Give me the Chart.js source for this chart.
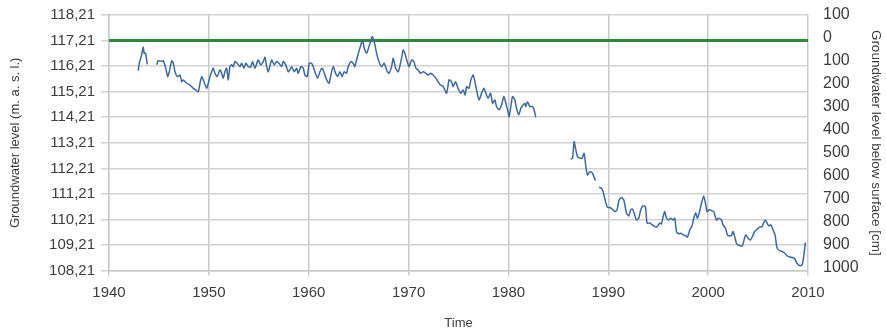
<!DOCTYPE html>
<html>
<head>
<meta charset="utf-8">
<title>Groundwater level</title>
<script src="https://cdn.jsdelivr.net/npm/chart.js@4.4.1/dist/chart.umd.min.js"></script>
<style>
  html, body { margin: 0; padding: 0; background: #ffffff; }
  #wrap { width: 886px; height: 335px; }
</style>
</head>
<body>
<div id="wrap"><canvas id="chart" width="886" height="335"></canvas></div>
<script>
// Observation dates (decimal years); null levels mark breaks in the record
const years = [
  1942.93, 1943.03, 1943.27, 1943.43, 1943.53, 1943.67, 1943.83, 1944.30,
  1944.77, 1944.93, 1945.28, 1945.44, 1945.68, 1945.88, 1946.04, 1946.28, 1946.44, 1946.61, 1946.84,
  1947.11, 1947.28, 1947.44, 1947.78, 1948.11, 1948.44, 1948.68, 1948.94, 1949.11, 1949.28, 1949.51,
  1949.78, 1949.94, 1950.11, 1950.28, 1950.44, 1950.61, 1950.84, 1951.11, 1951.28, 1951.44, 1951.61,
  1951.78, 1951.94, 1952.11, 1952.28, 1952.44, 1952.61, 1952.84, 1953.11, 1953.28, 1953.51, 1953.71,
  1953.94, 1954.18, 1954.38, 1954.61, 1954.94, 1955.19, 1955.45, 1955.62, 1955.79, 1955.95, 1956.29,
  1956.55, 1956.79, 1957.02, 1957.29, 1957.45, 1957.69, 1957.95, 1958.12, 1958.29, 1958.55, 1958.79,
  1958.95, 1959.22, 1959.45, 1959.62, 1959.85, 1960.05, 1960.29, 1960.45, 1960.62, 1960.89, 1961.12,
  1961.35, 1961.62, 1961.89, 1962.05, 1962.22, 1962.45, 1962.69, 1962.89, 1963.12, 1963.35, 1963.55,
  1963.79, 1963.95, 1964.22, 1964.45, 1964.62, 1964.79, 1965.02, 1965.22, 1965.40, 1965.56, 1965.80,
  1966.03, 1966.23, 1966.36, 1966.56, 1966.80, 1967.03, 1967.30, 1967.56, 1967.80, 1968.03, 1968.30,
  1968.46, 1968.70, 1968.96, 1969.30, 1969.46, 1969.63, 1969.86, 1970.06, 1970.30, 1970.53, 1970.73,
  1970.96, 1971.20, 1971.46, 1971.73, 1971.96, 1972.20, 1972.46, 1972.73, 1972.96, 1973.20, 1973.46,
  1973.80, 1974.06, 1974.30, 1974.46, 1974.70, 1974.96, 1975.21, 1975.47, 1975.67, 1975.81, 1976.04,
  1976.24, 1976.47, 1976.71, 1976.91, 1977.07, 1977.31, 1977.54, 1977.74, 1977.97, 1978.21, 1978.41,
  1978.64, 1978.81, 1979.07, 1979.31, 1979.54, 1979.74, 1979.91, 1980.07, 1980.24, 1980.41, 1980.64,
  1980.81, 1981.04, 1981.24, 1981.47, 1981.64, 1981.74, 1981.91, 1982.14, 1982.41, 1982.57, 1982.74,
  1984.50,
  1986.22, 1986.42, 1986.58, 1986.75, 1986.92, 1987.15, 1987.38, 1987.58, 1987.75, 1987.92, 1988.15,
  1988.38, 1988.72, 1988.90,
  1989.08, 1989.32, 1989.48, 1989.72, 1989.92, 1990.15, 1990.38, 1990.65, 1990.88, 1991.08, 1991.32,
  1991.55, 1991.82, 1992.05, 1992.25, 1992.42, 1992.58, 1992.82, 1993.05, 1993.25, 1993.48, 1993.72,
  1993.88, 1994.15, 1994.42, 1994.65, 1994.88, 1995.15, 1995.32, 1995.48, 1995.65, 1995.83, 1996.06,
  1996.26, 1996.49, 1996.66, 1996.83, 1997.06, 1997.26, 1997.49, 1997.76, 1997.93, 1998.16, 1998.39,
  1998.59, 1998.76, 1998.93, 1999.16, 1999.33, 1999.56, 1999.73, 1999.89, 2000.09, 2000.33, 2000.56,
  2000.83, 2001.06, 2001.33, 2001.49, 2001.73, 2001.93, 2002.09, 2002.33, 2002.49, 2002.66, 2002.83,
  2002.99, 2003.23, 2003.43, 2003.60, 2003.76, 2004.00, 2004.23, 2004.43, 2004.66, 2004.89, 2005.16,
  2005.40, 2005.57, 2005.74, 2005.90, 2006.07, 2006.27, 2006.50, 2006.70, 2006.90, 2007.17, 2007.44,
  2007.67, 2007.90, 2008.17, 2008.44, 2008.67, 2008.90, 2009.17, 2009.40, 2009.57, 2009.74
];

// Groundwater level in metres above sea level
const levels = [
  116.03, 116.32, 116.65, 116.95, 116.71, 116.71, 116.28, null,
  116.26, 116.42, 116.39, 116.42, 116.13, 115.80, 115.99, 116.42, 116.32, 115.99, 115.80,
  115.86, 115.60, 115.67, 115.54, 115.47, 115.34, 115.28, 115.21, 115.54, 115.80, 115.60,
  115.34, 115.54, 115.80, 115.99, 116.13, 115.93, 115.80, 116.06, 115.93, 115.74, 115.99,
  116.13, 115.67, 116.19, 116.26, 116.19, 116.39, 116.32, 116.19, 116.32, 116.13, 116.32,
  116.19, 116.17, 116.39, 116.13, 116.45, 116.26, 116.39, 116.56, 116.19, 115.99, 116.45,
  116.26, 116.39, 116.32, 116.19, 116.39, 116.26, 115.99, 116.06, 116.19, 115.99, 116.13,
  115.93, 116.19, 116.13, 115.86, 115.80, 116.32, 116.32, 116.19, 115.99, 115.74, 115.99,
  116.13, 115.86, 115.60, 115.54, 115.86, 116.19, 115.93, 115.80, 115.99, 115.80, 115.99,
  115.93, 116.19, 116.39, 116.32, 116.19, 116.45, 116.78, 117.04, 117.23, 116.91, 116.71,
  116.97, 117.23, 117.36, 117.17, 116.71, 116.39, 116.19, 116.32, 116.06, 115.93, 116.19,
  116.52, 116.13, 115.99, 116.52, 116.84, 116.71, 116.39, 116.19, 116.45, 116.39, 116.13,
  116.06, 115.93, 115.99, 115.93, 115.86, 115.93, 115.86, 115.74, 115.60, 115.47, 115.41,
  115.15, 115.67, 115.60, 115.41, 115.60, 115.34, 115.15, 115.28, 115.08, 115.41, 115.34,
  115.67, 115.86, 115.47, 115.08, 114.89, 115.15, 115.34, 115.15, 114.95, 115.15, 114.76,
  114.89, 114.63, 114.50, 114.69, 115.02, 114.76, 114.50, 114.23, 114.63, 115.02, 114.89,
  114.56, 114.30, 114.56, 114.69, 114.76, 114.63, 114.82, 114.63, 114.63, 114.50, 114.21,
  null,
  112.57, 112.61, 113.26, 112.93, 112.67, 112.61, 112.61, 112.80, 112.28, 111.95, 112.08,
  112.04, 111.73, null,
  111.47, 111.43, 111.30, 110.91, 110.69, 110.68, 110.62, 110.52, 110.59, 110.98, 111.07,
  110.98, 110.46, 110.35, 110.59, 110.62, 110.46, 110.19, 110.26, 110.59, 110.74, 110.71,
  110.07, 110.07, 110.00, 109.93, 109.93, 110.07, 110.04, 110.30, 110.52, 110.26, 110.19,
  110.26, 110.19, 110.26, 109.74, 109.65, 109.67, 109.61, 109.57, 109.52, 109.80, 109.97,
  110.30, 110.46, 110.26, 110.55, 110.85, 111.13, 110.85, 110.52, 110.59, 110.56, 110.52,
  110.19, 110.26, 110.19, 110.00, 109.87, 109.61, 109.57, 109.58, 109.74, 109.54, 109.28,
  109.22, 109.18, 109.18, 109.41, 109.61, 109.48, 109.41, 109.54, 109.74, 109.83, 109.91,
  109.93, 110.09, 110.19, 110.07, 109.96, 110.00, 109.80, 109.61, 109.09, 108.99, 108.95,
  108.89, 108.79, 108.74, 108.72, 108.67, 108.50, 108.40, 108.43, 108.76, 109.31
];

// Ground surface reference level (0 cm below surface)
const surfaceYears = [1940, 2010];
const surfaceLevels = [117.21, 117.21];

// Axis tick values
const levelTicks = [108.21, 109.21, 110.21, 111.21, 112.21, 113.21, 114.21, 115.21, 116.21, 117.21, 118.21];
const depthTicks = [-100, 0, 100, 200, 300, 400, 500, 600, 700, 800, 900, 1000];
const yearTicks = [1940, 1950, 1960, 1970, 1980, 1990, 2000, 2010];

const FONT = "'Liberation Sans', Arial, sans-serif";
const TEXT = '#3d3d3d';
const GRID = '#d2d2d2';

const seriesPoints = years.map((x, i) => ({ x: x, y: levels[i] }));
const surfacePoints = surfaceYears.map((x, i) => ({ x: x, y: surfaceLevels[i] }));

new Chart(document.getElementById('chart'), {
  type: 'line',
  data: {
    datasets: [
      {
        label: 'Groundwater level',
        data: seriesPoints,
        borderColor: '#3a6aa3',
        borderWidth: 1.5,
        pointRadius: 0,
        tension: 0.2,
        spanGaps: false,
        yAxisID: 'y',
        order: 1
      },
      {
        label: 'Ground surface',
        data: surfacePoints,
        borderColor: '#2b8a3a',
        borderWidth: 3,
        pointRadius: 0,
        tension: 0,
        yAxisID: 'y',
        order: 2
      }
    ]
  },
  options: {
    responsive: false,
    animation: false,
    devicePixelRatio: 1,
    layout: { padding: { top: 15, left: 0, right: 0, bottom: 0 } },
    plugins: {
      legend: { display: false },
      tooltip: { enabled: false }
    },
    scales: {
      x: {
        type: 'linear',
        min: 1940,
        max: 2010,
        afterBuildTicks: (scale) => { scale.ticks = yearTicks.map(v => ({ value: v })); },
        afterFit: (scale) => { scale.height = 64.4; },
        grid: { color: '#c9c9c9', lineWidth: 1.5, tickLength: 5 },
        border: { color: '#c9c9c9', width: 1.5 },
        ticks: {
          padding: 8,
          color: TEXT,
          font: { family: FONT, size: 15 },
          maxRotation: 0,
          callback: (v) => String(v)
        },
        title: {
          display: true,
          text: 'Time',
          color: TEXT,
          font: { family: FONT, size: 13 },
          padding: { top: 0, bottom: 4 }
        }
      },
      y: {
        type: 'linear',
        position: 'left',
        min: 108.21,
        max: 118.21,
        afterBuildTicks: (scale) => { scale.ticks = levelTicks.map(v => ({ value: v })); },
        afterFit: (scale) => { scale.width = 109; },
        grid: { color: GRID, lineWidth: 1.5, tickLength: 8 },
        border: { color: '#c9c9c9', width: 1.5 },
        ticks: {
          padding: 6,
          color: TEXT,
          font: { family: FONT, size: 15 },
          callback: (v) => Number(v).toFixed(2).replace('.', ',')
        },
        title: {
          display: true,
          text: 'Groundwater level (m. a. s. l.)',
          color: TEXT,
          font: { family: FONT, size: 13 },
          padding: { top: 8, bottom: 0 }
        }
      },
      y2: {
        type: 'linear',
        position: 'right',
        reverse: true,
        min: -100,
        max: 1011,
        afterBuildTicks: (scale) => { scale.ticks = depthTicks.map(v => ({ value: v })); },
        afterFit: (scale) => { scale.width = 78; },
        grid: { drawOnChartArea: false, drawTicks: true, tickLength: 12, color: 'rgba(0,0,0,0)' },
        border: { display: false },
        ticks: {
          padding: 3,
          color: TEXT,
          font: { family: FONT, size: 16 },
          callback: (v) => String(Math.abs(v))
        },
        title: {
          display: true,
          text: 'Groundwater level below surface [cm]',
          color: TEXT,
          font: { family: FONT, size: 13.5 },
          padding: { top: 2, bottom: 0 }
        }
      }
    }
  }
});
</script>
</body>
</html>
